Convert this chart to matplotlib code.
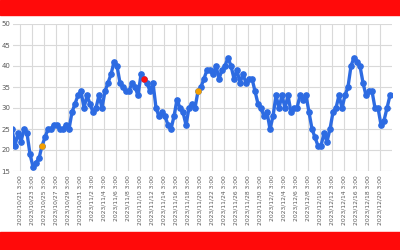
import numpy as np
import pandas as pd
import matplotlib
matplotlib.use("Agg")
import matplotlib.pyplot as plt

# ========== Data ==========
start_time = "2023-10-19 19:00"
step = "12h"
values = [25, 21, 24, 22, 25, 24, 19, 16, 17, 18,
          21, 23, 25, 25, 26, 26, 25, 25, 26, 25,
          29, 31, 33, 34, 30, 33, 31, 29, 30, 33,
          30, 34, 36, 38, 41, 40, 36, 35, 34, 34,
          36, 35, 33, 38, 37, 36, 34, 36, 30, 28,
          29, 28, 26, 25, 28, 32, 30, 29, 26, 30,
          31, 30, 34, 35, 37, 39, 39, 38, 40, 37,
          39, 40, 42, 40, 37, 39, 36, 38, 36, 37,
          37, 34, 31, 30, 28, 29, 25, 28, 33, 30,
          33, 30, 33, 29, 30, 30, 33, 32, 33, 29,
          25, 23, 21, 21, 24, 22, 25, 29, 30, 33,
          30, 33, 35, 40, 42, 41, 40, 36, 33, 34,
          34, 30, 30, 26, 27, 30, 33]
orange_idx = [10, 62]
red_idx = [44]

tick_start = "2023-10-21 03:00"
tick_end = "2023-12-20 03:00"
y_ticks = [15, 20, 25, 30, 35, 40, 45, 50]

times = pd.date_range(start_time, periods=len(values), freq=step)
ticks = pd.date_range(tick_start, tick_end, freq="2D")
tick_labels = [f"{t.year}/{t.month}/{t.day} {t.hour}:{t.minute:02d}" for t in ticks]

# ========== Figure ==========
fig = plt.figure(figsize=(4, 2.5), dpi=100)
fig.patch.set_facecolor("white")

# red bands top and bottom
fig.patches.append(plt.Rectangle((0, 1 - 15 / 250), 1, 15 / 250, transform=fig.transFigure,
                                 color="#FF0A0A", zorder=0))
fig.patches.append(plt.Rectangle((0, 0), 1, 18 / 250, transform=fig.transFigure,
                                 color="#FF0A0A", zorder=0))

ax = fig.add_axes([13 / 400, 1 - 171 / 250, (392 - 13) / 400, (171 - 24) / 250])

ax.plot(times, values, color="#2D6BE2", lw=2.4, marker="o", ms=3.8,
        mec="#2D6BE2", mfc="#2D6BE2", zorder=3)
ax.plot(times[orange_idx], np.array(values)[orange_idx], "o", color="#F5A000",
        ms=3.6, zorder=4)
ax.plot(times[red_idx], np.array(values)[red_idx], "o", color="#FF1010",
        ms=3.6, zorder=4)

ax.set_ylim(15, 50)
ax.set_yticks(y_ticks)
ax.set_xticks(ticks)
ax.set_xticklabels(tick_labels, rotation=90, fontsize=4.3, color="#595959")
ax.set_xlim(ticks[0] - pd.Timedelta(hours=28), ticks[0] + pd.Timedelta(days=62))
ax.tick_params(axis="y", labelsize=5, colors="#595959", length=0, pad=2)
ax.tick_params(axis="x", length=0, pad=3)
ax.grid(True, color="#D9D9D9", lw=0.8)
ax.set_axisbelow(True)
for s in ax.spines.values():
    s.set_visible(False)

fig.savefig("out.png", dpi=100)
